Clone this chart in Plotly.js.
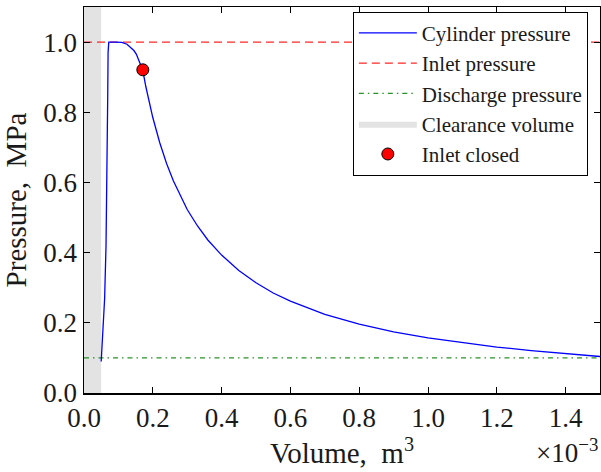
<!DOCTYPE html>
<html>
<head>
<meta charset="utf-8">
<script src="https://cdn.plot.ly/plotly-3.0.1.min.js"></script>
<style>html,body{margin:0;padding:0;background:#fff;}#chart{width:601px;height:472px;}</style>
</head>
<body>
<div id="chart"></div>
<script>
// Volume in m^3, pressure in MPa
const cylVolume = [0.050e-3,0.055e-3,0.060e-3,0.064e-3,0.067e-3,0.069e-3,0.070e-3,0.072e-3,0.090e-3,0.110e-3,0.125e-3,0.135e-3,0.145e-3,0.152e-3,0.158e-3,0.163e-3,0.168e-3,0.171e-3,0.180e-3,0.190e-3,0.200e-3,0.220e-3,0.240e-3,0.260e-3,0.280e-3,0.300e-3,0.330e-3,0.360e-3,0.400e-3,0.450e-3,0.500e-3,0.550e-3,0.600e-3,0.700e-3,0.800e-3,0.900e-3,1.000e-3,1.100e-3,1.200e-3,1.300e-3,1.400e-3,1.500e-3];
const cylPressure = [0.090,0.170,0.270,0.420,0.620,0.850,0.970,1.000,1.000,0.999,0.994,0.986,0.976,0.966,0.952,0.936,0.926,0.919,0.872,0.826,0.785,0.714,0.654,0.604,0.561,0.523,0.476,0.436,0.393,0.349,0.314,0.285,0.262,0.224,0.196,0.174,0.157,0.143,0.131,0.121,0.112,0.104];
const volumeRange = [0, 1.5e-3];
const inletPressure = 1.0;
const dischargePressure = 0.1;
const clearanceVolume = 0.05e-3;
const pressureMax = 1.1;
const inletClosedVolume = [0.171e-3];
const inletClosedPressure = [0.921];
const xTickVals = [0,0.2e-3,0.4e-3,0.6e-3,0.8e-3,1.0e-3,1.2e-3,1.4e-3];
const xTickText = ["0.0","0.2","0.4","0.6","0.8","1.0","1.2","1.4"];
const yTickVals = [0,0.2,0.4,0.6,0.8,1.0];
const yTickText = ["0.0","0.2","0.4","0.6","0.8","1.0"];

const FONT = "'Liberation Serif', 'DejaVu Serif', serif";

const traces = [
  {
    x: [0, clearanceVolume, clearanceVolume, 0, 0],
    y: [0, 0, pressureMax, pressureMax, 0],
    type: 'scatter', mode: 'lines', fill: 'toself',
    fillcolor: '#e3e3e3', line: {width: 0, color: '#e3e3e3'},
    name: 'Clearance volume', legendrank: 4, legendgroup: 'd', hoverinfo: 'skip'
  },
  {
    x: volumeRange, y: [inletPressure, inletPressure],
    type: 'scatter', mode: 'lines',
    line: {color: 'rgba(255,0,0,0.85)', width: 1.3, dash: '8px,5px'},
    name: 'Inlet pressure', legendrank: 2, legendgroup: 'b'
  },
  {
    x: volumeRange, y: [dischargePressure, dischargePressure],
    type: 'scatter', mode: 'lines',
    line: {color: 'rgba(0,128,0,0.85)', width: 1.3, dash: '5px,4px,1.5px,4px'},
    name: 'Discharge pressure', legendrank: 3, legendgroup: 'c'
  },
  {
    x: cylVolume, y: cylPressure,
    type: 'scatter', mode: 'lines',
    line: {color: '#0000ff', width: 1.3},
    name: 'Cylinder pressure', legendrank: 1, legendgroup: 'a'
  },
  {
    x: inletClosedVolume, y: inletClosedPressure,
    type: 'scatter', mode: 'markers',
    marker: {color: '#ff0000', size: 12, line: {color: '#000', width: 1}},
    name: 'Inlet closed', legendrank: 5, legendgroup: 'e'
  }
];

const axisCommon = {
  showgrid: false, zeroline: false, showline: true, linecolor: '#000', linewidth: 1.5,
  mirror: 'ticks', ticks: 'inside', ticklen: 6, tickwidth: 1, tickcolor: '#000',
  tickfont: {family: FONT, size: 27, color: '#1a1a1a'}
};

const layout = {
  width: 601, height: 472,
  margin: {l: 84, r: 1, t: 7, b: 79},
  paper_bgcolor: '#fff', plot_bgcolor: '#fff',
  font: {family: FONT, color: '#1a1a1a'},
  showlegend: true,
  legend: {
    x: 0.521, y: 0.988, xanchor: 'left', yanchor: 'top',
    bgcolor: '#fff', bordercolor: '#000', borderwidth: 1,
    font: {family: FONT, size: 21, color: '#1a1a1a'},
    itemwidth: 58, traceorder: 'grouped', tracegroupgap: 0
  },
  xaxis: Object.assign({}, axisCommon, {
    range: volumeRange, tickmode: 'array', tickvals: xTickVals, ticktext: xTickText,
    title: {text: 'Volume,  m<sup>3</sup>', font: {family: FONT, size: 29, color: '#1a1a1a'}, standoff: 6}
  }),
  yaxis: Object.assign({}, axisCommon, {
    range: [0, pressureMax], tickmode: 'array', tickvals: yTickVals, ticktext: yTickText,
    title: {text: 'Pressure,  MPa', font: {family: FONT, size: 29, color: '#1a1a1a'}, standoff: 8}
  }),
  annotations: [{
    xref: 'paper', yref: 'paper', x: 1, y: -0.10, xanchor: 'right', yanchor: 'top',
    text: '×10<sup>−3</sup>', showarrow: false, font: {family: FONT, size: 27, color: '#1a1a1a'}
  }]
};

Plotly.newPlot('chart', traces, layout, {displayModeBar: false, staticPlot: true});
</script>
</body>
</html>
